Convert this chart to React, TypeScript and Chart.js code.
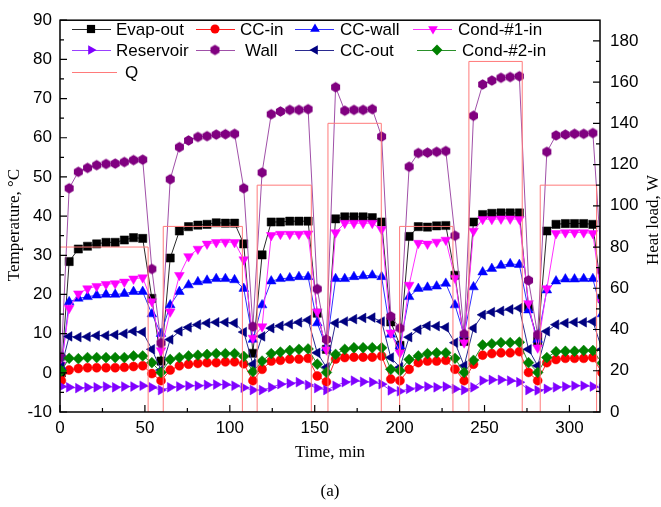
import React, { useEffect, useRef } from 'react';
import { Chart, registerables } from 'chart.js';

Chart.register(...registerables);

// ---- data ----
const timeMin = [
  0.8, 5.4, 10.8, 16.2, 21.6, 27.1, 32.5, 37.9, 43.3, 48.7,
  54.1, 59.5, 64.9, 70.3, 75.7, 81.2, 86.6, 92.0, 97.4, 102.8,
  108.2, 113.6, 119.0, 124.4, 129.8, 135.3, 140.7, 146.1, 151.5, 156.9,
  162.3, 167.7, 173.1, 178.5, 183.9, 189.4, 194.8, 200.2, 205.6, 211.0,
  216.4, 221.8, 227.2, 232.6, 238.0, 243.5, 248.9, 254.3, 259.7, 265.1,
  270.5, 275.9, 281.3, 286.7, 292.1, 297.6, 303.0, 308.4, 313.8, 319.2,
];

const evapOut = [
  0, 28.4, 31.6, 32.3, 32.9, 33.3, 33.3, 33.9, 34.5, 34.3,
  19.0, 3.0, 29.3, 36.2, 37.3, 37.7, 37.9, 38.3, 38.2, 38.2,
  32.9, 5.0, 30.1, 38.5, 38.5, 38.7, 38.7, 38.7, 15.2, 6.0,
  39.3, 39.8, 39.8, 39.8, 39.6, 38.5, 13.0, 7.0, 34.8, 37.3,
  37.2, 37.5, 37.6, 24.9, 8.0, 38.5, 40.4, 40.7, 40.8, 40.8,
  40.8, 16.9, 8.0, 36.2, 37.9, 38.1, 38.1, 38.1, 37.9, 19.0,
];

const ccIn = [
  -2.0, 0.7, 1.1, 1.3, 1.3, 1.3, 1.3, 1.4, 1.6, 1.8,
  -0.2, -2.0, 0.7, 1.8, 2.2, 2.4, 2.6, 2.6, 2.8, 2.8,
  2.3, -2.0, 0.9, 3.0, 3.2, 3.5, 3.5, 3.7, -0.8, -2.3,
  3.5, 3.9, 4.0, 4.0, 4.0, 4.3, -1.6, -2.0, 0.9, 2.6,
  3.0, 3.0, 3.2, 0.9, -2.0, 2.2, 4.5, 4.9, 5.1, 5.1,
  5.4, 0.1, -2.0, 2.6, 3.4, 3.7, 3.7, 3.7, 3.9, 0.0,
];

const ccWall = [
  1.5, 18.1, 19.0, 19.4, 19.8, 20.0, 20.0, 20.2, 20.7, 20.7,
  15.0, 10.0, 17.3, 20.7, 22.4, 23.2, 23.6, 24.0, 24.0, 23.7,
  21.5, 8.5, 17.3, 23.4, 24.0, 24.2, 24.5, 24.5, 12.7, 6.4,
  24.0, 24.0, 24.5, 24.7, 24.9, 24.5, 9.8, 6.8, 19.4, 21.5,
  21.8, 22.1, 22.8, 17.3, 9.7, 21.9, 25.7, 26.6, 27.4, 27.8,
  27.6, 16.0, 8.5, 21.1, 23.4, 23.9, 23.9, 24.0, 24.0, 15.0,
];

const cond1In = [
  2.0, 16.5, 20.2, 21.5, 22.1, 22.6, 22.8, 23.2, 24.0, 24.3,
  18.2, 5.7, 15.6, 24.9, 29.7, 31.6, 32.9, 33.3, 33.4, 33.3,
  28.9, 8.9, 11.8, 35.1, 35.4, 35.4, 35.4, 35.5, 15.6, 5.9,
  35.8, 38.2, 38.2, 38.2, 38.2, 36.6, 10.2, 5.1, 22.4, 33.1,
  32.9, 33.4, 33.9, 24.2, 7.7, 36.2, 39.2, 39.2, 39.3, 39.3,
  39.2, 17.7, 6.4, 21.5, 35.6, 35.8, 35.8, 35.8, 35.6, 18.0,
];

const reservoir = [
  -3.5, -3.7, -3.9, -3.7, -3.7, -3.5, -3.7, -3.5, -3.5, -3.3,
  -3.7, -4.4, -3.7, -3.5, -3.3, -3.3, -3.1, -3.0, -3.0, -3.3,
  -3.8, -4.4, -4.4, -3.7, -2.9, -2.7, -2.4, -3.1, -3.9, -4.4,
  -3.3, -2.4, -2.0, -2.3, -2.4, -2.9, -4.5, -4.7, -4.1, -3.7,
  -3.5, -3.7, -3.5, -4.1, -4.4, -3.7, -2.0, -1.8, -1.8, -2.0,
  -2.4, -4.4, -4.5, -4.1, -3.7, -3.5, -3.3, -3.3, -3.5, -4.0,
];

const wall = [
  4.0, 47.1, 51.3, 52.3, 53.0, 53.3, 53.4, 53.8, 54.3, 54.4,
  26.5, 7.6, 49.4, 57.6, 59.3, 60.2, 60.4, 60.8, 60.9, 61.0,
  47.1, 11.8, 51.1, 66.0, 66.7, 67.1, 67.1, 67.3, 21.4, 8.5,
  72.9, 66.9, 67.1, 67.1, 67.3, 60.3, 14.4, 11.4, 52.6, 56.1,
  56.2, 56.4, 56.6, 35.0, 9.9, 65.6, 73.6, 74.6, 75.3, 75.5,
  75.7, 23.6, 9.7, 56.4, 60.6, 60.8, 61.0, 61.0, 61.2, 26.0,
];

const ccOut = [
  1.5, 9.3, 9.1, 9.2, 9.5, 9.5, 9.7, 10.0, 10.6, 10.4,
  6.0, 0.7, 8.5, 10.6, 11.6, 12.3, 12.7, 12.9, 12.9, 12.7,
  10.4, 2.2, 9.3, 11.4, 12.0, 12.4, 12.9, 13.5, 5.1, 1.4,
  12.7, 13.1, 13.7, 14.0, 14.1, 13.1, 3.9, 1.4, 9.1, 11.0,
  12.0, 11.9, 11.6, 7.7, 1.8, 11.4, 14.8, 15.5, 15.8, 16.2,
  16.5, 6.0, 1.8, 10.6, 12.3, 12.7, 12.9, 12.9, 13.1, 6.0,
];

const cond2In = [
  0.5, 3.7, 3.6, 3.9, 3.9, 3.9, 3.9, 3.9, 4.3, 4.3,
  2.6, 0.1, 3.4, 3.9, 4.3, 4.5, 4.7, 4.9, 4.9, 4.9,
  4.2, 0.3, 3.0, 4.9, 5.3, 5.7, 6.0, 6.1, 2.2, 0.1,
  4.7, 6.0, 6.4, 6.4, 6.4, 6.4, 0.9, 0.5, 3.4, 4.3,
  4.9, 5.1, 5.1, 3.7, 0.1, 3.2, 7.1, 7.4, 7.7, 7.7,
  7.8, 2.6, 0.1, 3.9, 5.4, 5.5, 5.5, 5.7, 5.7, 2.5,
];

// heat load (step) on right axis
const qTime = [0, 51.9, 60.8, 107.4, 116.1, 148.0, 157.8, 189.2, 200.0, 231.4, 240.8, 272.2, 282.8, 316.0, 320.0];
const qLoad = [80, 0, 90, 0, 110, 0, 140, 0, 90, 0, 170, 0, 110, 0, 0];

const seriesLabels = ['Evap-out', 'CC-in', 'CC-wall', 'Cond-#1-in', 'Reservoir', 'Wall', 'CC-out', 'Cond-#2-in'];
const seriesValues = [evapOut, ccIn, ccWall, cond1In, reservoir, wall, ccOut, cond2In];

// ---- styles ----
const TICK_FONT = '"Liberation Sans", Arial, sans-serif';
const TITLE_FONT = '"Liberation Serif", "Times New Roman", serif';

function makeHexagon(color: string, r: number): HTMLCanvasElement {
  const size = Math.ceil(r * 2 + 2);
  const c = document.createElement('canvas');
  c.width = size;
  c.height = size;
  const g = c.getContext('2d')!;
  g.beginPath();
  for (let i = 0; i < 6; i++) {
    const a = (Math.PI / 3) * i + Math.PI / 6;
    const px = size / 2 + Math.cos(a) * r;
    const py = size / 2 + Math.sin(a) * r;
    if (i === 0) g.moveTo(px, py);
    else g.lineTo(px, py);
  }
  g.closePath();
  g.fillStyle = color;
  g.fill();
  return c;
}

type SeriesStyle = { color: string; line: string; shape: any; rotation: number; radius: number };

function buildStyles(): SeriesStyle[] {
  const hex = makeHexagon('#800080', 5.2);
  return [
    { color: '#000000', line: '#2a2a2a', shape: 'rect', rotation: 0, radius: 5.8 },
    { color: '#ff0000', line: '#ff2020', shape: 'circle', rotation: 0, radius: 4.5 },
    { color: '#0000ff', line: '#3030ff', shape: 'triangle', rotation: 0, radius: 5.6 },
    { color: '#ff00ff', line: '#ff30ff', shape: 'triangle', rotation: 180, radius: 5.6 },
    { color: '#8000ff', line: '#9a40ff', shape: 'triangle', rotation: 90, radius: 5.6 },
    { color: '#800080', line: '#a050a8', shape: hex, rotation: 0, radius: 5.2 },
    { color: '#000080', line: '#2a2a90', shape: 'triangle', rotation: 270, radius: 5.6 },
    { color: '#008000', line: '#2a902a', shape: 'rectRot', rotation: 0, radius: 5.4 },
  ];
}

function drawMarker(ctx: CanvasRenderingContext2D, st: SeriesStyle, x: number, y: number) {
  const r = st.radius;
  if (typeof st.shape !== 'string') {
    const img = st.shape as HTMLCanvasElement;
    ctx.drawImage(img, x - img.width / 2, y - img.height / 2);
    return;
  }
  ctx.beginPath();
  if (st.shape === 'rect') {
    const s = r * Math.SQRT1_2;
    ctx.rect(x - s, y - s, 2 * s, 2 * s);
  } else if (st.shape === 'circle') {
    ctx.arc(x, y, r, 0, Math.PI * 2);
  } else if (st.shape === 'triangle') {
    let rad = (st.rotation * Math.PI) / 180;
    ctx.moveTo(x + Math.sin(rad) * r, y - Math.cos(rad) * r);
    rad += (2 * Math.PI) / 3;
    ctx.lineTo(x + Math.sin(rad) * r, y - Math.cos(rad) * r);
    rad += (2 * Math.PI) / 3;
    ctx.lineTo(x + Math.sin(rad) * r, y - Math.cos(rad) * r);
    ctx.closePath();
  } else if (st.shape === 'rectRot') {
    ctx.moveTo(x - r, y);
    ctx.lineTo(x, y - r);
    ctx.lineTo(x + r, y);
    ctx.lineTo(x, y + r);
    ctx.closePath();
  }
  ctx.fillStyle = st.color;
  ctx.fill();
}

export default function App() {
  const canvasRef = useRef<HTMLCanvasElement | null>(null);

  useEffect(() => {
    if (!canvasRef.current) return;
    const styles = buildStyles();

    const datasets: any[] = seriesLabels.map((label, i) => {
      const st = styles[i];
      return {
        label,
        data: timeMin.map((t, k) => ({ x: t, y: seriesValues[i][k] })),
        yAxisID: 'y',
        borderColor: st.line,
        backgroundColor: st.color,
        borderWidth: 1,
        pointStyle: st.shape,
        pointRotation: st.rotation,
        pointRadius: st.radius,
        pointBackgroundColor: st.color,
        pointBorderColor: st.color,
        pointBorderWidth: 0.5,
        tension: 0,
        order: -i,
      };
    });

    datasets.push({
      label: 'Q',
      data: qTime.map((t, k) => ({ x: t, y: qLoad[k] })),
      yAxisID: 'y1',
      borderColor: '#ff7a7a',
      backgroundColor: '#ff7a7a',
      borderWidth: 1,
      pointRadius: 0,
      stepped: true,
      tension: 0,
      order: -20,
    });

    const legendPlugin = {
      id: 'customDecor',
      afterDraw(chart: any) {
        const { ctx, chartArea: a, scales } = chart;
        ctx.save();

        // frame
        ctx.strokeStyle = '#000';
        ctx.lineWidth = 1.5;
        ctx.strokeRect(a.left, a.top, a.right - a.left, a.bottom - a.top);

        // ticks (inward)
        ctx.lineWidth = 1.2;
        ctx.beginPath();
        const drawTicks = (scale: any, horizontal: boolean, side: number, maxV: number) => {
          const vals: number[] = scale.ticks.map((t: any) => t.value);
          const step = vals.length > 1 ? vals[1] - vals[0] : 0;
          const minors: number[] = [];
          for (let i = 0; i < vals.length; i++) {
            const m = vals[i] + step / 2;
            if (m < maxV - 1e-6) minors.push(m);
          }
          const mk = (v: number, len: number) => {
            const p = scale.getPixelForValue(v);
            if (horizontal) {
              ctx.moveTo(p, a.bottom);
              ctx.lineTo(p, a.bottom - len);
            } else {
              ctx.moveTo(side, p);
              ctx.lineTo(side + (side === a.left ? len : -len), p);
            }
          };
          vals.forEach((v) => mk(v, 7));
          minors.forEach((v) => mk(v, 4));
        };
        drawTicks(scales.x, true, 0, scales.x.max);
        drawTicks(scales.y, false, a.left, scales.y.max);
        drawTicks(scales.y1, false, a.right, scales.y1.max);
        ctx.stroke();

        // axis titles
        ctx.fillStyle = '#000';
        ctx.font = '17px ' + TITLE_FONT;
        ctx.textAlign = 'center';
        ctx.textBaseline = 'middle';
        ctx.fillText('Time, min', 330, 453);
        ctx.fillText('(a)', 330, 492);
        ctx.save();
        ctx.translate(15, 225);
        ctx.rotate(-Math.PI / 2);
        ctx.fillText('Temperature, \u00B0C', 0, 0);
        ctx.restore();
        ctx.save();
        ctx.translate(654, 220);
        ctx.rotate(-Math.PI / 2);
        ctx.fillText('Heat load, W', 0, 0);
        ctx.restore();

        // legend
        const cols = [
          { lx: 72, mx: 91, tx: 116 },
          { lx: 196, mx: 215, tx: 240 },
          { lx: 295, mx: 315, tx: 340 },
          { lx: 413, mx: 433, tx: 458 },
        ];
        const rowsY = [29, 50];
        const txOverride: Record<number, number> = { 5: 245, 7: 462 };
        const lxOverride: Record<number, number> = { 7: 417 };
        const mxOverride: Record<number, number> = { 7: 437 };
        ctx.font = '17px ' + TICK_FONT;
        ctx.textAlign = 'left';
        ctx.textBaseline = 'middle';
        seriesLabels.forEach((label, i) => {
          const c = cols[i % 4];
          const y = rowsY[Math.floor(i / 4)];
          const st = styles[i];
          const lx = lxOverride[i] ?? c.lx;
          const mx = mxOverride[i] ?? c.mx;
          const tx = txOverride[i] ?? c.tx;
          ctx.strokeStyle = st.line;
          ctx.lineWidth = 1;
          ctx.beginPath();
          ctx.moveTo(lx, y + 0.5);
          ctx.lineTo(lx + 39, y + 0.5);
          ctx.stroke();
          drawMarker(ctx, st, mx, y);
          ctx.fillStyle = '#000';
          ctx.fillText(label, tx, y + 1);
        });
        // Q entry
        ctx.strokeStyle = '#ff7a7a';
        ctx.lineWidth = 1;
        ctx.beginPath();
        ctx.moveTo(72, 72.5);
        ctx.lineTo(117, 72.5);
        ctx.stroke();
        ctx.fillStyle = '#000';
        ctx.fillText('Q', 125, 73);

        ctx.restore();
      },
    };

    const tickFont = { family: TICK_FONT, size: 17 };

    const chart = new Chart(canvasRef.current, {
      type: 'line',
      data: { datasets },
      options: {
        responsive: false,
        maintainAspectRatio: false,
        animation: false,
        devicePixelRatio: 1,
        events: [],
        layout: { padding: { top: 15, left: 0, right: 0, bottom: 0 } },
        plugins: {
          legend: { display: false },
          tooltip: { enabled: false },
          title: { display: false },
        },
        scales: {
          x: {
            type: 'linear',
            min: 0,
            max: 318,
            grid: { display: false, drawTicks: false },
            border: { display: false },
            ticks: {
              stepSize: 50,
              includeBounds: false,
              color: '#000',
              font: tickFont,
              padding: 6,
              maxRotation: 0,
              autoSkip: false,
            },
            afterFit: (s: any) => {
              s.height = 95;
            },
          },
          y: {
            type: 'linear',
            position: 'left',
            min: -10,
            max: 90,
            grid: { display: false, drawTicks: false },
            border: { display: false },
            ticks: { stepSize: 10, includeBounds: false, color: '#000', font: tickFont, padding: 8, autoSkip: false },
            afterFit: (s: any) => {
              s.width = 60;
            },
          },
          y1: {
            type: 'linear',
            position: 'right',
            min: 0,
            max: 190,
            grid: { display: false, drawTicks: false },
            border: { display: false },
            ticks: { stepSize: 20, includeBounds: false, color: '#000', font: tickFont, padding: 10, autoSkip: false },
            afterFit: (s: any) => {
              s.width = 61;
            },
          },
        },
      } as any,
      plugins: [legendPlugin],
    });

    return () => chart.destroy();
  }, []);

  return (
    <div style={{ position: 'absolute', left: 0, top: 0, width: 661, height: 507, background: '#fff' }}>
      <canvas ref={canvasRef} width={661} height={507} style={{ display: 'block' }} />
    </div>
  );
}
